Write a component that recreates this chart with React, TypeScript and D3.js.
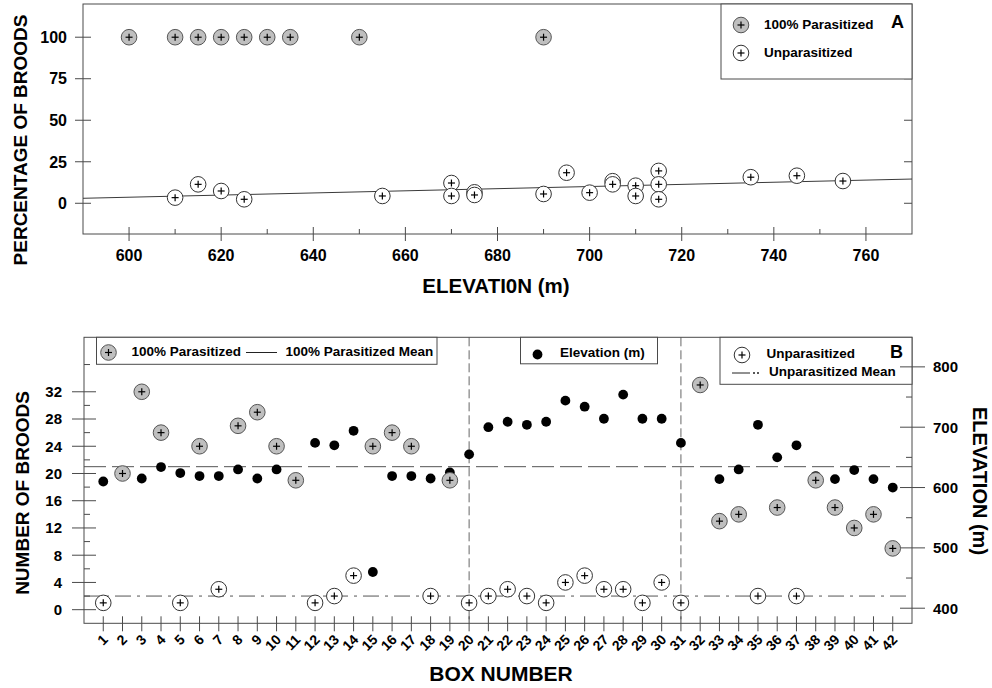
import React from 'react'
import * as d3 from 'd3'

const width = 992
const height = 688
const font = '"Liberation Sans", Arial, sans-serif'

// Panel A: percentage of broods vs elevation
const parElev = [600, 610, 615, 620, 625, 630, 635, 650, 690]
const parPct = [100, 100, 100, 100, 100, 100, 100, 100, 100]
const unparElev = [610, 615, 620, 625, 655, 670, 670, 675, 675, 690, 695, 700, 705, 705, 710, 710, 715, 715, 715, 735, 745, 755]
const unparPct = [3.4, 11.4, 7.4, 2.4, 4.4, 12.2, 4.4, 6.6, 5, 5.6, 18.4, 6.4, 13.3, 11.4, 10.6, 4.4, 19.5, 11.4, 2.4, 15.7, 16.6, 13.4]
const trendElev = [590, 770]
const trendPct = [3.0, 14.6]
const pctTicks = [0, 25, 50, 75, 100]
const elevTicks = [600, 620, 640, 660, 680, 700, 720, 740, 760]
const elevMinor = [610, 630, 650, 670, 690, 710, 730, 750]

// Panel B: number of broods per box
const boxNumbers = d3.range(1, 43)
const boxElevation = [610, 624, 615, 634, 624, 619, 619, 630, 615, 630, 612, 674, 670, 694, 460, 619, 619, 615, 625, 655, 700,
    709, 704, 709, 744, 734, 714, 754, 714, 714, 674, 770, 614, 630, 704, 650, 670, 619, 614, 629, 614, 600]
const parBoxes = [2, 3, 4, 6, 8, 9, 10, 11, 15, 16, 17, 19, 32, 33, 34, 36, 38, 39, 40, 41, 42]
const parCounts = [20, 32, 26, 24, 27, 29, 24, 19, 24, 26, 24, 19, 33, 13, 14, 15, 19, 15, 12, 14, 9]
const unparBoxes = [1, 5, 7, 12, 13, 14, 18, 20, 21, 22, 23, 24, 25, 26, 27, 28, 29, 30, 31, 35, 37]
const unparCounts = [1, 1, 3, 1, 2, 5, 2, 1, 2, 3, 2, 1, 4, 5, 3, 3, 1, 4, 1, 2, 2]
const parMean = 21
const unparMean = 2
const dividers = [20, 31]
const countTicks = [0, 4, 8, 12, 16, 20, 24, 28, 32]
const countMinor = [2, 6, 10, 14, 18, 22, 26, 30, 36]
const rightTicks = [400, 500, 600, 700, 800]
const rightMinor = [450, 550, 650, 750]

const axisColor = '#4a4a4a'
const grayFill = '#bfbfbf'

const Marker = ({ x, y, gray }) => (
    <g>
        <circle cx={x} cy={y} r={7.8} fill={gray ? grayFill : '#fff'} stroke={gray ? '#555' : '#333'} strokeWidth={1} />
        <line x1={x - 3.5} x2={x + 3.5} y1={y} y2={y} stroke="#000" strokeWidth={1.2} />
        <line x1={x} x2={x} y1={y - 3.5} y2={y + 3.5} stroke="#000" strokeWidth={1.2} />
    </g>
)

const PanelA = () => {
    const x = d3.scaleLinear().domain([590, 770]).range([83, 912])
    const y = d3.scaleLinear().domain([-18.5, 120]).range([234, 4])
    const [x0, x1] = x.range()
    const [y0, y1] = y.range()
    const trend = d3.line()
        .x((d) => x(d[0]))
        .y((d) => y(d[1]))(trendElev.map((e, i) => [e, trendPct[i]]))

    return (
        <g>
            <rect x={x0} y={y1} width={x1 - x0} height={y0 - y1} fill="none" stroke={axisColor} />
            {pctTicks.map((t) => (
                <g key={t}>
                    <line x1={x0 - 8} x2={x0 + 8} y1={y(t)} y2={y(t)} stroke={axisColor} />
                    <line x1={x1 - 8} x2={x1} y1={y(t)} y2={y(t)} stroke={axisColor} />
                    <text x={67} y={y(t)} dy="0.36em" textAnchor="end" fontSize={16}>{t}</text>
                </g>
            ))}
            {elevTicks.map((t) => (
                <g key={t}>
                    <line x1={x(t)} x2={x(t)} y1={y0 - 7} y2={y0 + 7} stroke={axisColor} />
                    <text x={x(t)} y={261} textAnchor="middle" fontSize={16}>{t}</text>
                </g>
            ))}
            {elevMinor.map((t) => (
                <line key={t} x1={x(t)} x2={x(t)} y1={y0 - 5} y2={y0} stroke={axisColor} />
            ))}
            <path d={trend} stroke="#3a3a3a" strokeWidth={1} fill="none" />
            {parElev.map((e, i) => (
                <Marker key={'p' + i} x={x(e)} y={y(parPct[i])} gray />
            ))}
            {unparElev.map((e, i) => (
                <Marker key={'u' + i} x={x(e)} y={y(unparPct[i])} />
            ))}
            {/* legend */}
            <rect x={721} y={y1} width={x1 - 721} height={75} fill="#fff" stroke={axisColor} />
            <Marker x={741} y={25} gray />
            <text x={764} y={28.5} fontSize={13.5}>100% Parasitized</text>
            <Marker x={741} y={53} />
            <text x={764} y={56.5} fontSize={13.5}>Unparasitized</text>
            <text x={891} y={28} fontSize={18}>A</text>
            <text transform="translate(27, 140) rotate(-90)" textAnchor="middle" fontSize={19}>PERCENTAGE OF BROODS</text>
            <text x={496} y={293} textAnchor="middle" fontSize={20.5}>ELEVATI0N (m)</text>
        </g>
    )
}

const PanelB = () => {
    const x = d3.scaleLinear().domain([0, 43]).range([84, 912])
    const y = d3.scaleLinear().domain([-2, 40]).range([623.3, 337.3])
    const yR = d3.scaleLinear().domain([375, 849]).range([623.3, 337.3])
    const [x0, x1] = x.range()
    const [y0, y1] = y.range()

    return (
        <g>
            {dividers.map((b) => (
                <line key={b} x1={x(b)} x2={x(b)} y1={y1} y2={y0} stroke="#666" strokeDasharray="9,4" />
            ))}
            <line x1={x0} x2={x1} y1={y(parMean)} y2={y(parMean)} stroke="#555" strokeDasharray="22,6" />
            <line x1={x0} x2={x1} y1={y(unparMean)} y2={y(unparMean)} stroke="#555" strokeDasharray="16,6,3,6" />
            <rect x={x0} y={y1} width={x1 - x0} height={y0 - y1} fill="none" stroke={axisColor} />
            {countTicks.map((t) => (
                <g key={t}>
                    <line x1={x0 - 12} x2={x0 + 12} y1={y(t)} y2={y(t)} stroke={axisColor} />
                    <text x={62} y={y(t)} dy="0.36em" textAnchor="end" fontSize={15}>{t}</text>
                </g>
            ))}
            {countMinor.map((t) => (
                <line key={t} x1={x0} x2={x0 + 6} y1={y(t)} y2={y(t)} stroke={axisColor} />
            ))}
            {rightTicks.map((t) => (
                <g key={t}>
                    <line x1={x1 - 12} x2={x1 + 13} y1={yR(t)} y2={yR(t)} stroke={axisColor} />
                    <text x={933} y={yR(t)} dy="0.36em" fontSize={15}>{t}</text>
                </g>
            ))}
            {rightMinor.map((t) => (
                <line key={t} x1={x1 - 6} x2={x1} y1={yR(t)} y2={yR(t)} stroke={axisColor} />
            ))}
            {boxNumbers.map((b) => (
                <g key={b}>
                    <line x1={x(b)} x2={x(b)} y1={y0 - 7} y2={y0 + 8} stroke={axisColor} />
                    <text transform={`translate(${x(b) + 2}, 637) rotate(-45)`} dy="0.36em" textAnchor="end" fontSize={14}>{b}</text>
                </g>
            ))}
            {boxNumbers.map((b, i) => (
                <circle key={'e' + b} cx={x(b)} cy={yR(boxElevation[i])} r={4.9} fill="#000" />
            ))}
            {parBoxes.map((b, i) => (
                <Marker key={'p' + b} x={x(b)} y={y(parCounts[i])} gray />
            ))}
            {unparBoxes.map((b, i) => (
                <Marker key={'u' + b} x={x(b)} y={y(unparCounts[i])} />
            ))}
            {/* legends */}
            <rect x={96.5} y={y1} width={340.5} height={27} fill="#fff" stroke={axisColor} />
            <Marker x={108.5} y={352.5} gray />
            <text x={131.5} y={355.5} fontSize={13.5}>100% Parasitized</text>
            <line x1={246} x2={277} y1={352.5} y2={352.5} stroke="#222" />
            <text x={285.5} y={355.5} fontSize={13.5}>100% Parasitized Mean</text>

            <rect x={520.5} y={y1} width={137} height={26.5} fill="#fff" stroke={axisColor} />
            <circle cx={537.5} cy={354.5} r={4.9} fill="#000" />
            <text x={560} y={357} fontSize={13.5}>Elevation (m)</text>

            <rect x={720} y={y1} width={x1 - 720} height={47} fill="#fff" stroke={axisColor} />
            <Marker x={742} y={355} />
            <text x={766.5} y={358} fontSize={13.5}>Unparasitized</text>
            <line x1={732} x2={750} y1={373} y2={373} stroke="#222" />
            <line x1={753} x2={759} y1={373} y2={373} stroke="#222" strokeDasharray="2,2" strokeWidth={1.5} />
            <text x={769} y={376} fontSize={13.5}>Unparasitized Mean</text>
            <text x={890} y={358} fontSize={18}>B</text>
            <line x1={x1 - 12} x2={x1} y1={yR(800)} y2={yR(800)} stroke={axisColor} />

            <text transform="translate(29, 493) rotate(-90)" textAnchor="middle" fontSize={19}>NUMBER OF BROODS</text>
            <text transform="translate(973, 481) rotate(90)" textAnchor="middle" fontSize={20}>ELEVATION (m)</text>
            <text x={501} y={681} textAnchor="middle" fontSize={21}>BOX NUMBER</text>
        </g>
    )
}

export default function App() {
    return (
        <svg
            width={width}
            height={height}
            style={{ position: 'absolute', left: 0, top: 0, background: '#fff' }}
            fontFamily={font}
            fontWeight="bold"
        >
            <PanelA />
            <PanelB />
        </svg>
    )
}
